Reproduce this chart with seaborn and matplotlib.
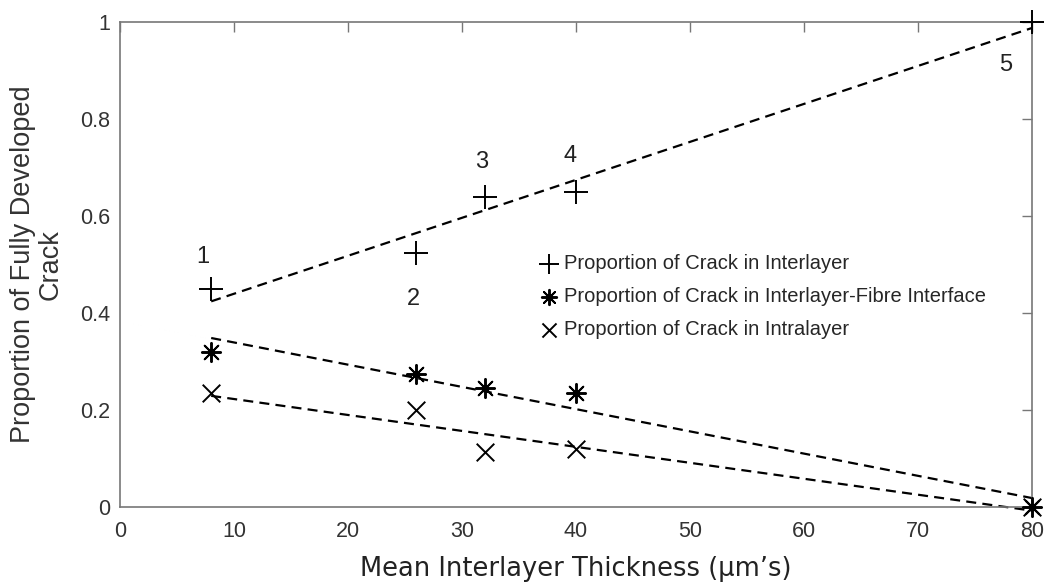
import numpy as np
import pandas as pd
import matplotlib
matplotlib.use('Agg')
import matplotlib.pyplot as plt
import seaborn as sns

# Data
thickness = [8, 26, 32, 40, 80]
interlayer = [0.45, 0.525, 0.64, 0.65, 1.0]
interface = [0.32, 0.275, 0.245, 0.235, 0.0]
intralayer = [0.235, 0.20, 0.113, 0.12, 0.0]

point_labels = ['1', '2', '3', '4', '5']
label_x = [7.3, 25.7, 31.7, 39.5, 77.7]
label_y = [0.515, 0.43, 0.711, 0.724, 0.911]

series_names = ['Proportion of Crack in Interlayer',
                'Proportion of Crack in Interlayer-Fibre Interface',
                'Proportion of Crack in Intralayer']

sns.set_theme(style="white")
plt.rcParams['font.family'] = ['Liberation Sans', 'DejaVu Sans']
plt.rcParams['xtick.direction'] = 'in'
plt.rcParams['ytick.direction'] = 'in'

fig = plt.figure(figsize=(10.46, 5.83), dpi=100)
ax = fig.add_axes([0.1147, 0.130, 0.872, 0.832])

df = pd.DataFrame({'x': thickness, 'inter': interlayer,
                   'iface': interface, 'intra': intralayer})

markers = ['+', (8, 2, 0), 'x']
sizes = [300, 190, 160]
for col, name, mk, sz in zip(['inter', 'iface', 'intra'], series_names, markers, sizes):
    sns.regplot(data=df, x='x', y=col, ax=ax, ci=None, marker=mk, label=name,
                scatter_kws={'s': sz, 'color': 'black', 'alpha': 1, 'linewidths': 1.4,
                             'clip_on': False, 'zorder': 4},
                line_kws={'color': 'black', 'linestyle': (0, (4.5, 2.8)), 'linewidth': 1.6,
                          'clip_on': False})

for t, lx, ly in zip(point_labels, label_x, label_y):
    ax.text(lx, ly, t, fontsize=17, color='#222222', ha='center', va='center')

ax.set_xlim(0, 80)
ax.set_ylim(0, 1)
ax.set_xticks(range(0, 81, 10))
ax.set_yticks([0, 0.2, 0.4, 0.6, 0.8, 1])
ax.set_yticklabels(['0', '0.2', '0.4', '0.6', '0.8', '1'])
ax.tick_params(axis='both', labelsize=15.5, colors='#777777', labelcolor='#333333',
               length=7, width=1, top=True, right=True, pad=7)
ax.tick_params(axis='x', pad=10)
for s in ax.spines.values():
    s.set_color('#777777')
    s.set_linewidth(1.2)

ax.set_xlabel('Mean Interlayer Thickness (µm’s)', fontsize=18.5, color='#222222',
              family='DejaVu Sans', labelpad=10)
ax.set_ylabel('Proportion of Fully Developed\nCrack', fontsize=19.5, color='#333333',
              labelpad=12, linespacing=1.05)

ax.legend(loc='upper left', bbox_to_anchor=(0.444, 0.546), frameon=False,
          fontsize=14.5, labelspacing=0.68, handletextpad=0.15, handlelength=1.2,
          markerscale=0.8, borderaxespad=0.2)

fig.savefig('out.png', dpi=100)
